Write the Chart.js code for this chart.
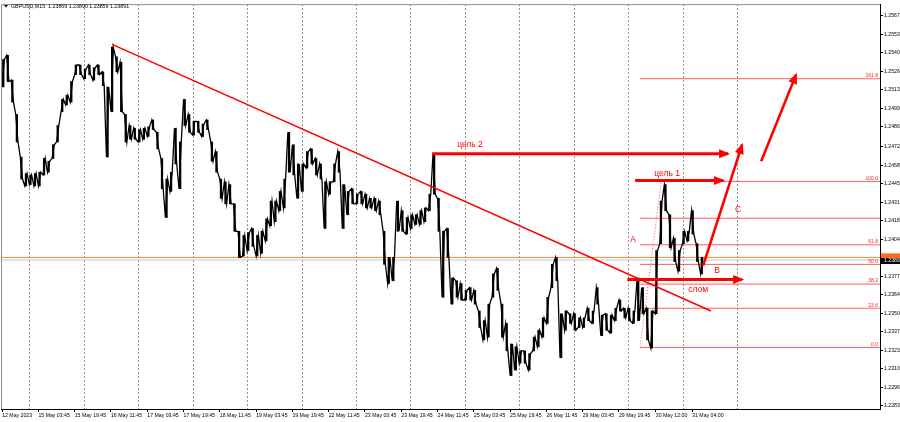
<!DOCTYPE html>
<html><head><meta charset="utf-8">
<script src="https://cdn.jsdelivr.net/npm/chart.js@4.4.1/dist/chart.umd.min.js"></script>
<style>html,body{margin:0;padding:0;background:#fff;}#wrap{width:900px;height:422px;position:relative;}</style>
</head><body><div id="wrap"><canvas id="c"></canvas></div>
<script>
// ---- data (hours of trading time since 12 May 2023 11:45, prices) ----
const hours = [0,2,4,6,8,10,12,14,16,18,20,22,24,26,28,30,32,34,36,38,40,42,44,46,48,50,52,54,56,58,60,62,64,66,68,70,72,74,76,78,80,82,84,86,88,90,92,94,96,98,100,102,104,106,108,110,112,114,116,118,120,122,124,126,128,130,132,134,136,138,140,142,144,146,148,150,152,154,156,158,160,162,164,166,168,170,172,174,176,178,180,182,184,186,188,190,192,194,196,198,200,202,204,206,208,210,212,214,216,218,220,222,224,226,228,230,232,234,236,238,240,242,244,246,248,250,252,254,256,258,260,262,264,266,268,270,272,274,276,278,280,282,284,286,288,290,292,294,296,298,300,302,304,306,308];
const highs = [1.2535,1.2538,1.2520,1.2495,1.2464,1.2452,1.2451,1.2452,1.2453,1.2463,
1.2461,1.2473,1.2487,1.2506,1.2509,1.2519,1.2531,1.2531,1.2528,1.2531,
1.2529,1.2531,1.2526,1.2515,1.2544,1.2537,1.2533,1.2495,1.2487,1.2485,
1.2484,1.2485,1.2486,1.2491,1.2482,1.2463,1.2448,1.2453,1.2485,1.2475,
1.2506,1.2495,1.2490,1.2490,1.2488,1.2491,1.2475,1.2468,1.2448,1.2446,
1.2444,1.2430,1.2410,1.2407,1.2409,1.2412,1.2407,1.2410,1.2419,1.2432,
1.2432,1.2439,1.2448,1.2482,1.2473,1.2459,1.2459,1.2468,1.2470,1.2463,
1.2459,1.2446,1.2446,1.2459,1.2468,1.2444,1.2439,1.2441,1.2437,1.2439,
1.2437,1.2434,1.2434,1.2432,1.2410,1.2391,1.2391,1.2432,1.2425,1.2420,
1.2422,1.2422,1.2425,1.2427,1.2437,1.2466,1.2434,1.2410,1.2412,1.2376,
1.2374,1.2372,1.2367,1.2369,1.2367,1.2352,1.2345,1.2357,1.2379,1.2383,
1.2357,1.2343,1.2328,1.2326,1.2323,1.2323,1.2321,1.2333,1.2338,1.2347,
1.2362,1.2386,1.2391,1.2350,1.2352,1.2350,1.2350,1.2347,1.2347,1.2354,
1.2352,1.2369,1.2349,1.2350,1.2349,1.2354,1.2360,1.2354,1.2354,1.2352,
1.2376,1.2369,1.2354,1.2352,1.2396,1.2432,1.2444,1.2422,1.2405,1.2396,
1.2410,1.2410,1.2425,1.2401,1.2391];
const lows = [1.2515,1.2519,1.2504,1.2475,1.2448,1.2443,1.2444,1.2443,1.2443,1.2451,
1.2453,1.2463,1.2475,1.2497,1.2502,1.2504,1.2524,1.2524,1.2521,1.2524,
1.2520,1.2524,1.2516,1.2464,1.2497,1.2526,1.2497,1.2475,1.2477,1.2477,
1.2475,1.2477,1.2479,1.2484,1.2470,1.2441,1.2420,1.2439,1.2459,1.2441,
1.2487,1.2482,1.2480,1.2482,1.2479,1.2484,1.2461,1.2453,1.2434,1.2430,
1.2430,1.2410,1.2391,1.2392,1.2396,1.2399,1.2392,1.2394,1.2403,1.2414,
1.2417,1.2425,1.2427,1.2453,1.2451,1.2434,1.2439,1.2456,1.2459,1.2451,
1.2448,1.2412,1.2437,1.2446,1.2453,1.2412,1.2422,1.2430,1.2430,1.2430,
1.2427,1.2427,1.2425,1.2422,1.2386,1.2372,1.2374,1.2410,1.2410,1.2408,
1.2412,1.2415,1.2415,1.2417,1.2425,1.2437,1.2410,1.2362,1.2391,1.2357,
1.2362,1.2360,1.2360,1.2360,1.2357,1.2340,1.2331,1.2333,1.2362,1.2367,
1.2333,1.2323,1.2305,1.2309,1.2314,1.2314,1.2309,1.2323,1.2326,1.2333,
1.2343,1.2369,1.2374,1.2318,1.2338,1.2343,1.2338,1.2340,1.2340,1.2345,
1.2343,1.2357,1.2334,1.2338,1.2336,1.2345,1.2352,1.2347,1.2345,1.2343,
1.2345,1.2350,1.2331,1.2325,1.2350,1.2401,1.2425,1.2398,1.2388,1.2381,
1.2401,1.2403,1.2408,1.2388,1.2379];

const xTickHours = [0,16,32,48,64,80,96,112,128,144,160,176,192,208,224,240,256,272,288.25,304.25];
const xTickLabels = ['12 May 2023','15 May 03:45','15 May 19:45','16 May 11:45','17 May 03:45','17 May 19:45','18 May 11:45','19 May 03:45','19 May 19:45','22 May 11:45','23 May 03:45','23 May 19:45','24 May 11:45','25 May 03:45','25 May 19:45','26 May 11:45','29 May 03:45','29 May 19:45','30 May 12:00','31 May 04:00'];
const dayGridHours = [12.25,36.25,60.25,84.25,108.25,132.25,156.25,180.25,204.25,228.25,252.25,276.25,300.25,324.25];
const yTickValues = [1.2567,1.2553,1.2540,1.2526,1.2513,1.2499,1.2486,1.2472,1.2458,1.2445,1.2431,1.2418,1.2404,1.2377,1.2364,1.2350,1.2337,1.2323,1.2310,1.2296,1.2283];

const fibPrices = [1.23255,1.23540,1.23716,1.23859,1.24002,1.24195,1.24463,1.25210];
const fibLabels = ['0.0','23.6','38.2','50.0','61.8','','100.0','161.8'];
const fibStartHour = 281.3;
const fibDiagHours = [281.3,290.6];
const fibDiagPrices = [1.23255,1.24463];

const trendHours = [48.5,312.6];
const trendPrices = [1.2546,1.2352];
const target2Hours = [189.6,320.1]; const target2Price = 1.24665;
const target1Hours = [279.1,317.9]; const target1Price = 1.2447;
const breakHours = [275.7,326.3]; const breakPrice = 1.2375;
const proj1Hours = [309.1,326.3]; const proj1Prices = [1.2385,1.2473];
const proj2Hours = [334.7,350.1]; const proj2Prices = [1.2461,1.2524];
const orangePrice = 1.2391;
const bidPrice = 1.23891;

const labelTexts = ['цель 2','цель 1','слом','A','B','C'];
const labelHours = [206.3,293.2,306.9,278.2,315.3,324.5];
const labelPrices = [1.2473,1.2452,1.23675,1.2404,1.2381,1.2426];

const xMin = -0.5, xMax = 387.1, yMin = 1.22807, yMax = 1.25753;

// ---- build datasets ----
const zig = [];
for (let i = 0; i < hours.length; i++) {
  const nextMid = i + 1 < hours.length ? (highs[i+1] + lows[i+1]) / 2 : (highs[i] + lows[i]) / 2;
  const mid = (highs[i] + lows[i]) / 2;
  if (nextMid >= mid) { zig.push({x: hours[i], y: lows[i]}); zig.push({x: hours[i] + 1, y: highs[i]}); }
  else { zig.push({x: hours[i], y: highs[i]}); zig.push({x: hours[i] + 1, y: lows[i]}); }
}
const ranges = hours.map((h, i) => ({x: h + 0.5, y: [lows[i], highs[i]]}));
const RED = '#ff0000';
const ds = [];
ds.push({data:[{x:xMin,y:orangePrice},{x:xMax,y:orangePrice}], borderColor:'#ff8a3c', borderWidth:1, order:6});
ds.push({data:[{x:xMin,y:bidPrice},{x:xMax,y:bidPrice}], borderColor:'#c8c8c8', borderWidth:1, order:6});
fibPrices.forEach(p => ds.push({data:[{x:fibStartHour,y:p},{x:xMax,y:p}], borderColor:'rgba(255,40,40,0.75)', borderWidth:1, order:5}));
ds.push({data:[{x:fibDiagHours[0],y:fibDiagPrices[0]},{x:fibDiagHours[1],y:fibDiagPrices[1]}], borderColor:'rgba(255,40,40,0.8)', borderWidth:1, borderDash:[1,2], order:5});
ds.push({type:'bar', data:ranges, backgroundColor:'#000', borderWidth:0, barThickness:1.6, order:4, xAxisID:'x', yAxisID:'y'});
ds.push({data:zig, borderColor:'#000', borderWidth:1.3, order:3});
ds.push({data:[{x:trendHours[0],y:trendPrices[0]},{x:trendHours[1],y:trendPrices[1]}], borderColor:RED, borderWidth:1.6, order:1});
ds.push({data:[{x:target2Hours[0],y:target2Price},{x:target2Hours[1],y:target2Price}], borderColor:RED, borderWidth:3, order:1, arrow:true});
ds.push({data:[{x:target1Hours[0],y:target1Price},{x:target1Hours[1],y:target1Price}], borderColor:RED, borderWidth:3, order:1, arrow:true});
ds.push({data:[{x:breakHours[0],y:breakPrice},{x:breakHours[1],y:breakPrice}], borderColor:RED, borderWidth:3, order:1, arrow:true});
ds.push({data:[{x:proj1Hours[0],y:proj1Prices[0]},{x:proj1Hours[1],y:proj1Prices[1]}], borderColor:RED, borderWidth:2.6, order:1, arrow:true});
ds.push({data:[{x:proj2Hours[0],y:proj2Prices[0]},{x:proj2Hours[1],y:proj2Prices[1]}], borderColor:RED, borderWidth:2.6, order:1, arrow:true});

const FONT = '"Liberation Sans", Arial, sans-serif';

const overlay = {
  id: 'overlay',
  afterDatasetsDraw(chart) {
    const ctx = chart.ctx, xs = chart.scales.x, ys = chart.scales.y, a = chart.chartArea;
    ctx.save();
    chart.data.datasets.forEach((d, i) => {
      if (!d.arrow) return;
      const pts = chart.getDatasetMeta(i).data;
      const p0 = pts[pts.length - 2], p1 = pts[pts.length - 1];
      const ang = Math.atan2(p1.y - p0.y, p1.x - p0.x);
      ctx.save(); ctx.translate(p1.x, p1.y); ctx.rotate(ang);
      ctx.beginPath(); ctx.moveTo(2, 0); ctx.lineTo(-9, -4.5); ctx.lineTo(-9, 4.5); ctx.closePath();
      ctx.fillStyle = d.borderColor; ctx.fill(); ctx.restore();
    });
    ctx.fillStyle = RED; ctx.font = '8.5px ' + FONT; ctx.textAlign = 'center'; ctx.textBaseline = 'middle';
    labelTexts.forEach((t, i) => ctx.fillText(t, xs.getPixelForValue(labelHours[i]), ys.getPixelForValue(labelPrices[i])));
    ctx.font = '5px ' + FONT; ctx.textAlign = 'right'; ctx.textBaseline = 'bottom'; ctx.fillStyle = '#ff2020';
    fibPrices.forEach((p, i) => { if (fibLabels[i]) ctx.fillText(fibLabels[i], a.right - 2, ys.getPixelForValue(p) - 0.5); });
    ctx.strokeStyle = '#909090'; ctx.lineWidth = 1;
    ctx.beginPath(); ctx.moveTo(a.left + 0.5, a.bottom); ctx.lineTo(a.left + 0.5, a.top + 0.5); ctx.lineTo(a.right, a.top + 0.5); ctx.stroke();
    ctx.restore();
  },
  afterDraw(chart) {
    const ctx = chart.ctx, ys = chart.scales.y, a = chart.chartArea;
    ctx.save();
    const yo = ys.getPixelForValue(orangePrice), yb = ys.getPixelForValue(bidPrice);
    ctx.fillStyle = '#ff6a1a'; ctx.fillRect(a.right + 1, yo - 4, 20, 5);
    ctx.fillStyle = '#000'; ctx.fillRect(a.right + 1, yb - 2, 20, 6);
    ctx.fillStyle = '#fff'; ctx.font = '5.2px ' + FONT; ctx.textAlign = 'left'; ctx.textBaseline = 'middle';
    ctx.fillText(bidPrice.toFixed(4), a.right + 4, yb + 1);
    ctx.fillStyle = '#000';
    ctx.beginPath(); ctx.moveTo(4, 5); ctx.lineTo(8, 5); ctx.lineTo(6, 7.5); ctx.closePath(); ctx.fill();
    ctx.font = '5.3px ' + FONT; ctx.textBaseline = 'middle';
    ctx.fillText('GBPUSD,M15  1.23869 1.23890 1.23859 1.23891', 11, 6.5);
    ctx.restore();
  }
};

new Chart(document.getElementById('c'), {
  type: 'line',
  data: { datasets: ds },
  options: {
    responsive: true, maintainAspectRatio: false, animation: false,
    layout: { padding: { left: 1, top: 1, right: 0, bottom: 0 } },
    elements: { point: { radius: 0, hoverRadius: 0 }, line: { tension: 0, borderCapStyle: 'butt' } },
    plugins: { legend: { display: false }, tooltip: { enabled: false } },
    events: [],
    scales: {
      x: {
        type: 'linear', position: 'bottom', min: xMin, max: xMax, offset: false,
        afterBuildTicks: s => { s.ticks = xTickHours.map(v => ({ value: v })); },
        afterFit: s => { s.height = 13; },
        ticks: { autoSkip: false, maxRotation: 0, minRotation: 0, align: 'start', padding: 0, color: '#000',
          font: { family: FONT, size: 5.2 },
          callback: (v) => { const i = xTickHours.indexOf(v); return i >= 0 ? xTickLabels[i] : ''; } },
        grid: { drawOnChartArea: false, drawTicks: true, tickLength: 3, color: '#000', offset: false },
        border: { display: true, color: '#000', width: 1 }
      },
      xg: {
        type: 'linear', position: 'bottom', min: xMin, max: xMax,
        afterBuildTicks: s => { s.ticks = dayGridHours.map(v => ({ value: v })); },
        afterFit: s => { s.height = 0; },
        ticks: { display: false },
        grid: { drawOnChartArea: true, drawTicks: false, color: '#8c8c8c', lineWidth: 1 },
        border: { display: false, dash: [2, 2] }
      },
      y: {
        type: 'linear', position: 'right', min: yMin, max: yMax,
        afterBuildTicks: s => { s.ticks = yTickValues.map(v => ({ value: v })); },
        afterFit: s => { s.width = 20; },
        ticks: { autoSkip: false, padding: 1, color: '#000', font: { family: FONT, size: 5.2 },
          callback: v => Number(v).toFixed(4) },
        grid: { drawOnChartArea: false, drawTicks: true, tickLength: 3, color: '#000' },
        border: { display: true, color: '#000', width: 1 }
      }
    }
  },
  plugins: [overlay]
});
</script></body></html>
